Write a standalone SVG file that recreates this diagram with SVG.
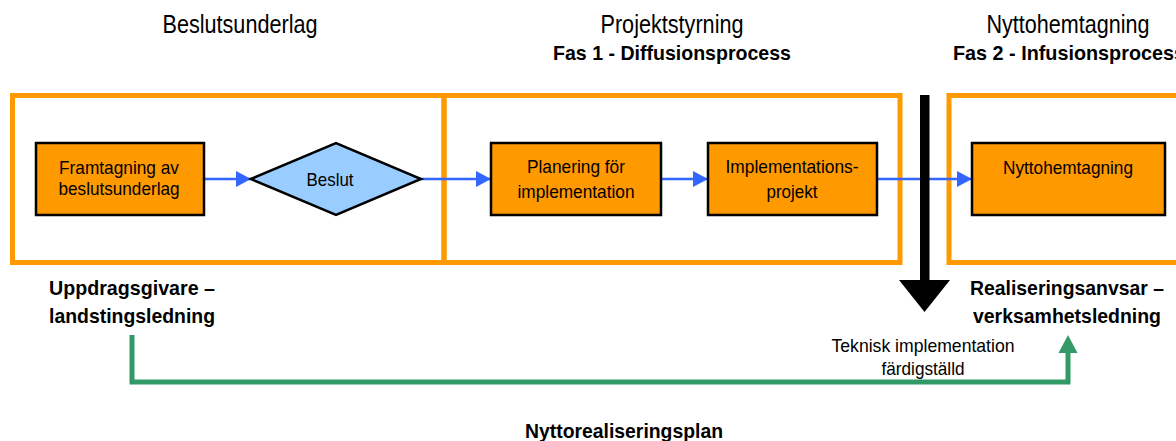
<svg xmlns="http://www.w3.org/2000/svg" width="1176" height="441" viewBox="0 0 1176 441">
  <style>
    text { font-family: "Liberation Sans", Arial, sans-serif; fill: #000; text-anchor: middle; }
    .hdr { font-size: 25px; }
    .phase { font-size: 21px; font-weight: bold; }
    .role { font-size: 21px; font-weight: bold; }
    .node { font-size: 18.5px; }
    .note { font-size: 19px; }
    .frame { fill: none; stroke: #FF9900; stroke-width: 5; }
    .box { fill: #FF9900; stroke: #000; stroke-width: 2.5; }
    .flow { fill: none; stroke: #3366FF; stroke-width: 2.5; marker-end: url(#blueHead); }
    .plan { fill: none; stroke: #339966; stroke-width: 5; }
  </style>
  <defs>
    <marker id="blueHead" markerUnits="userSpaceOnUse" markerWidth="16" markerHeight="16" refX="15" refY="8" orient="auto">
      <path d="M0,0 L15,8 L0,16 Z" fill="#3366FF"/>
    </marker>
  </defs>

  <rect width="1176" height="441" fill="#fff"/>

  <!-- column headings -->
  <g id="headings">
    <text class="hdr" x="240" y="33" textLength="155" lengthAdjust="spacingAndGlyphs">Beslutsunderlag</text>
    <text class="hdr" x="672" y="33" textLength="143" lengthAdjust="spacingAndGlyphs">Projektstyrning</text>
    <text class="phase" x="672" y="60" textLength="238" lengthAdjust="spacingAndGlyphs">Fas 1 - Diffusionsprocess</text>
    <text class="hdr" x="1068" y="33" textLength="163" lengthAdjust="spacingAndGlyphs">Nyttohemtagning</text>
    <text class="phase" x="1069" y="60" textLength="232" lengthAdjust="spacingAndGlyphs">Fas 2 - Infusionsprocess</text>
  </g>

  <!-- phase frames -->
  <g id="frames">
    <rect class="frame" x="12.5" y="95.5" width="431.5" height="167"/>
    <rect class="frame" x="444" y="95.5" width="456" height="167"/>
    <rect class="frame" x="949" y="95.5" width="240" height="167"/>
  </g>

  <!-- connectors -->
  <g id="connectors">
    <line class="flow" x1="204" y1="179" x2="251" y2="179"/>
    <line class="flow" x1="421" y1="179" x2="491" y2="179"/>
    <line class="flow" x1="661" y1="179" x2="708" y2="179"/>
    <line class="flow" x1="877" y1="179" x2="972" y2="179"/>
    <!-- technical go-live milestone -->
    <rect x="920" y="95" width="9.5" height="186" fill="#000"/>
    <polygon points="899,280 950,280 924.5,312" fill="#000"/>
    <!-- benefit realisation plan -->
    <polyline class="plan" points="132,335 132,382 1068,382 1068,351"/>
    <polygon points="1058.5,353 1077.5,353 1068,335" fill="#339966"/>
  </g>

  <g id="node-framtagning">
    <rect class="box" x="36" y="143" width="168" height="72"/>
    <text class="node" x="119" y="174" textLength="120" lengthAdjust="spacingAndGlyphs">Framtagning av</text>
    <text class="node" x="119" y="195" textLength="121" lengthAdjust="spacingAndGlyphs">beslutsunderlag</text>
  </g>

  <g id="node-beslut">
    <polygon points="251,179 336,143 421,179 336,215" fill="#99CCFF" stroke="#000" stroke-width="2.5"/>
    <text class="node" x="330" y="186" textLength="47" lengthAdjust="spacingAndGlyphs">Beslut</text>
  </g>

  <g id="node-planering">
    <rect class="box" x="491" y="143" width="170" height="72"/>
    <text class="node" x="576" y="173" textLength="98" lengthAdjust="spacingAndGlyphs">Planering för</text>
    <text class="node" x="576" y="198" textLength="117" lengthAdjust="spacingAndGlyphs">implementation</text>
  </g>

  <g id="node-implementation">
    <rect class="box" x="708" y="143" width="169" height="72"/>
    <text class="node" x="792" y="173" textLength="133" lengthAdjust="spacingAndGlyphs">Implementations-</text>
    <text class="node" x="792" y="198" textLength="51" lengthAdjust="spacingAndGlyphs">projekt</text>
  </g>

  <g id="node-nyttohemtagning">
    <rect class="box" x="972" y="143" width="193" height="72"/>
    <text class="node" x="1068" y="174" textLength="130" lengthAdjust="spacingAndGlyphs">Nyttohemtagning</text>
  </g>

  <!-- responsibility labels -->
  <g id="labels">
    <text class="role" x="132" y="295" textLength="166" lengthAdjust="spacingAndGlyphs">Uppdragsgivare –</text>
    <text class="role" x="132" y="323" textLength="166" lengthAdjust="spacingAndGlyphs">landstingsledning</text>
    <text class="role" x="1067" y="295" textLength="194" lengthAdjust="spacingAndGlyphs">Realiseringsanvsar –</text>
    <text class="role" x="1067" y="323" textLength="188" lengthAdjust="spacingAndGlyphs">verksamhetsledning</text>
    <text class="note" x="923" y="352" textLength="183" lengthAdjust="spacingAndGlyphs">Teknisk implementation</text>
    <text class="note" x="923" y="375" textLength="83" lengthAdjust="spacingAndGlyphs">färdigställd</text>
    <text class="phase" x="624" y="438" textLength="198" lengthAdjust="spacingAndGlyphs">Nyttorealiseringsplan</text>
  </g>
</svg>
